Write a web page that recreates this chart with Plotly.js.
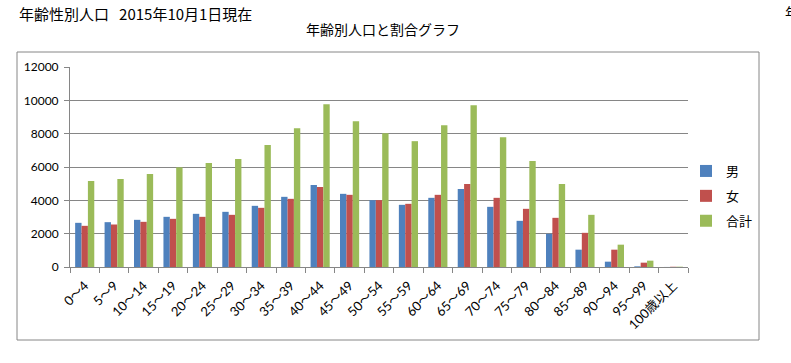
<!DOCTYPE html>
<html>
<head>
<meta charset="utf-8">
<script src="https://cdn.plot.ly/plotly-3.0.1.min.js"></script>
<style>
html,body{margin:0;padding:0;background:#fff;}
#chart{width:791px;height:363px;}
</style>
</head>
<body>
<div id="chart"></div>
<script>
// ---- data ----
var categories = ['0～4','5～9','10～14','15～19','20～24','25～29','30～34','35～39','40～44','45～49','50～54','55～59','60～64','65～69','70～74','75～79','80～84','85～89','90～94','95～99','100歳以上'];
var male   = [2650,2690,2830,3010,3190,3310,3670,4210,4920,4390,4010,3730,4150,4680,3610,2770,1990,1040,320,40,3];
var female = [2470,2550,2710,2890,3010,3130,3550,4090,4800,4330,4010,3790,4330,4980,4150,3490,2950,2050,1040,260,15];
var total  = [5160,5280,5580,5980,6240,6480,7320,8330,9770,8750,8030,7550,8510,9710,7790,6360,4980,3130,1340,380,18];
var seriesNames = ['男','女','合計'];
var yTicks = [0,2000,4000,6000,8000,10000,12000];
var mainTitle = '年齢性別人口\u00a0\u00a0\u00a02015年10月1日現在';
var chartTitle = '年齢別人口と割合グラフ';

// ---- styling ----
var colors = ['#4F81BD','#C0504D','#9BBB59'];
var W = 791, H = 363;
var M = {l:70, r:103, t:67, b:96};
var PW = W - M.l - M.r, PH = H - M.t - M.b;
function px(x){ return (x - M.l) / PW; }
function py(y){ return (H - M.b - y) / PH; }
var yTickFont = {family:"Lato, 'Noto Sans CJK JP', sans-serif", size:12, color:'#000'};
var xTickFont = {family:"Lato, 'Noto Sans CJK JP', sans-serif", size:13, color:'#000'};
var cjkFont = "'Noto Sans CJK JP', sans-serif";
var gray = '#868686';

var seriesVals = [male, female, total];
var traces = seriesVals.map(function(v, i){
  return {
    type:'bar', x:categories, y:v, name:seriesNames[i],
    legendgroup:'g'+i,
    marker:{color:colors[i], line:{width:0}},
    hoverinfo:'x+y+name'
  };
});

var layout = {
  width:W, height:H,
  margin:{l:M.l, r:M.r, t:M.t, b:M.b, pad:0},
  paper_bgcolor:'#ffffff', plot_bgcolor:'#ffffff',
  barmode:'group', bargap:0.35, bargroupgap:0,
  xaxis:{
    type:'category', showline:true, linecolor:gray, linewidth:1,
    ticks:'outside', tickson:'boundaries', ticklen:5, tickcolor:gray, tickwidth:1,
    tickangle:-45, tickfont:xTickFont, ticklabelstandoff:5, showgrid:false, fixedrange:true
  },
  yaxis:{
    range:[0,12000], tickvals:yTicks, ticktext:yTicks.map(String),
    showline:true, linecolor:gray, linewidth:1,
    ticks:'outside', ticklen:5, tickcolor:gray, tickwidth:1,
    showgrid:true, gridcolor:gray, gridwidth:1, zeroline:false,
    tickfont:yTickFont, ticklabelstandoff:3, fixedrange:true
  },
  showlegend:true,
  legend:{
    x:px(686), y:py(196), xanchor:'left', yanchor:'middle',
    font:{family:cjkFont, size:13, color:'#000'},
    traceorder:'grouped', tracegroupgap:5, itemwidth:30,
    bgcolor:'rgba(0,0,0,0)', borderwidth:0
  },
  shapes:[{
    type:'rect', xref:'paper', yref:'paper',
    x0:px(17), x1:px(759), y0:py(340), y1:py(52),
    line:{color:gray, width:1}, fillcolor:'rgba(0,0,0,0)', layer:'below'
  }],
  annotations:[
    {text:mainTitle, xref:'paper', yref:'paper', x:px(17), y:py(13), xanchor:'left', yanchor:'middle',
     showarrow:false, font:{family:cjkFont, size:15, color:'#000'}},
    {text:chartTitle, xref:'paper', yref:'paper', x:px(383), y:py(29), xanchor:'center', yanchor:'middle',
     showarrow:false, font:{family:cjkFont, size:14, color:'#000'}},
    {text:'年', xref:'paper', yref:'paper', x:px(783), y:py(12), xanchor:'left', yanchor:'middle',
     showarrow:false, font:{family:cjkFont, size:14, color:'#000'}}
  ]
};

Plotly.newPlot('chart', traces, layout, {displayModeBar:false, staticPlot:true});
</script>
</body>
</html>
